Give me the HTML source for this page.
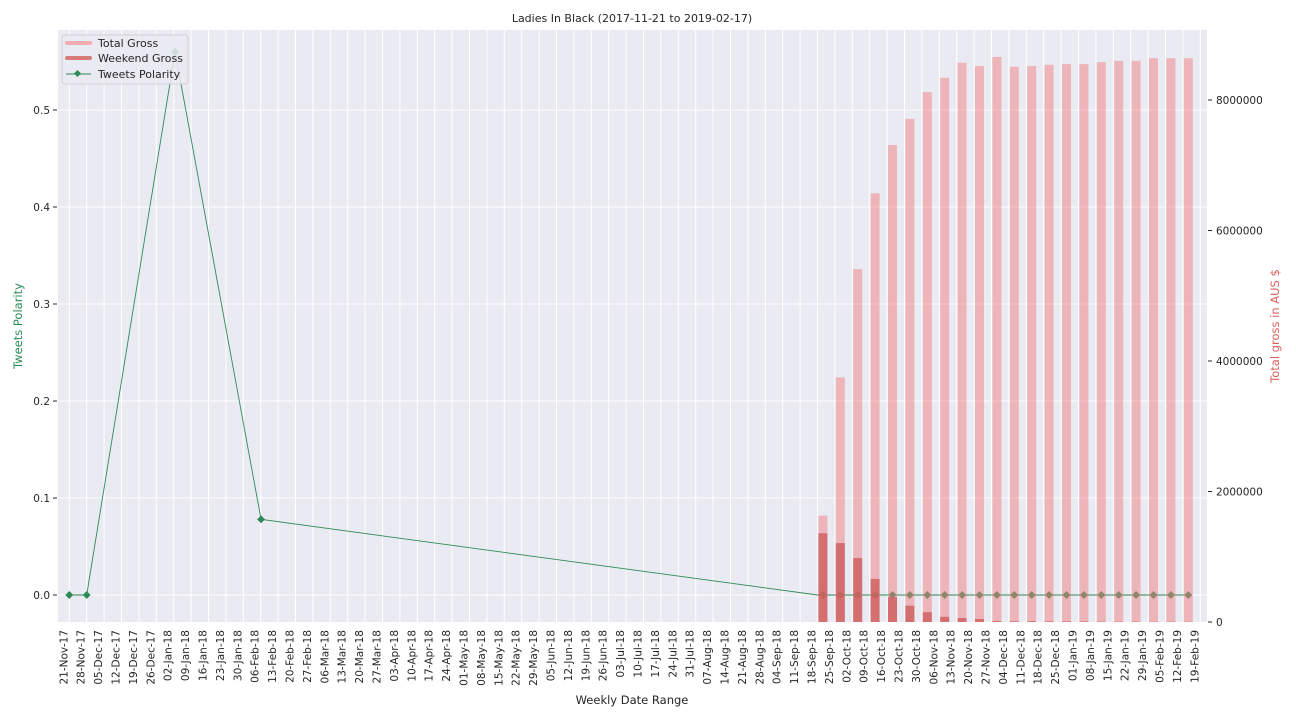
<!DOCTYPE html>
<html><head><meta charset="utf-8">
<style>
html,body{margin:0;padding:0;background:#fff;}
svg{display:block;font-family:"DejaVu Sans","Liberation Sans",sans-serif;}
</style></head>
<body>
<svg id="chart" width="1296" height="720" viewBox="0 0 1296 720" xmlns="http://www.w3.org/2000/svg">
<rect x="58" y="30" width="1149" height="592" fill="#eaeaf2"/>
<g id="grid"></g>
<g id="polarity"></g>
<g id="bars"></g>
<g id="axes"></g>
<text x="632" y="22" text-anchor="middle" font-size="11" fill="#262626">Ladies In Black (2017-11-21 to 2019-02-17)</text>
<text x="632" y="704" text-anchor="middle" font-size="11.5" fill="#262626">Weekly Date Range</text>
<text transform="translate(22,326) rotate(-90)" text-anchor="middle" font-size="11.5" fill="#2e8b57">Tweets Polarity</text>
<text transform="translate(1279,326) rotate(-90)" text-anchor="middle" font-size="11.5" fill="#d9605e">Total gross in AUS $</text>
<g>
<rect x="62" y="35" width="126" height="49" rx="3" fill="#eaeaf2" fill-opacity="0.85" stroke="#cccccc" stroke-width="0.8"/>
<line x1="67" y1="43" x2="90" y2="43" stroke="#f0aeb0" stroke-width="4" stroke-linecap="round"/>
<text x="98" y="47" font-size="11" fill="#262626">Total Gross</text>
<line x1="67" y1="58" x2="90" y2="58" stroke="#d77b7c" stroke-width="4" stroke-linecap="round"/>
<text x="98" y="62" font-size="11" fill="#262626">Weekend Gross</text>
<line x1="66" y1="74" x2="91" y2="74" stroke="#2e8b57" stroke-width="1"/>
<rect x="75" y="71" width="5" height="5" fill="#2e8b57" transform="rotate(45 77.5 73.5)"/>
<text x="98" y="78" font-size="11" fill="#262626">Tweets Polarity</text>
</g>
</svg>
<script>
const categories=["21-Nov-17","28-Nov-17","05-Dec-17","12-Dec-17","19-Dec-17","26-Dec-17","02-Jan-18","09-Jan-18","16-Jan-18","23-Jan-18","30-Jan-18","06-Feb-18","13-Feb-18","20-Feb-18","27-Feb-18","06-Mar-18","13-Mar-18","20-Mar-18","27-Mar-18","03-Apr-18","10-Apr-18","17-Apr-18","24-Apr-18","01-May-18","08-May-18","15-May-18","22-May-18","29-May-18","05-Jun-18","12-Jun-18","19-Jun-18","26-Jun-18","03-Jul-18","10-Jul-18","17-Jul-18","24-Jul-18","31-Jul-18","07-Aug-18","14-Aug-18","21-Aug-18","28-Aug-18","04-Sep-18","11-Sep-18","18-Sep-18","25-Sep-18","02-Oct-18","09-Oct-18","16-Oct-18","23-Oct-18","30-Oct-18","06-Nov-18","13-Nov-18","20-Nov-18","27-Nov-18","04-Dec-18","11-Dec-18","18-Dec-18","25-Dec-18","01-Jan-19","08-Jan-19","15-Jan-19","22-Jan-19","29-Jan-19","05-Feb-19","12-Feb-19","19-Feb-19"];
const barStart=44;
const totalGross=[1630000,3750000,5410000,6570000,7310000,7710000,8120000,8340000,8570000,8520000,8660000,8510000,8520000,8540000,8550000,8550000,8580000,8600000,8600000,8640000,8640000,8640000];
const weekendGross=[1360000,1210000,980000,660000,380000,250000,150000,80000,60000,45000,15000,12000,12000,10000,10000,8000,6000,5000,5000,4000,4000,3000];
const polarityIdx=[0,1,6.08,11.02,43,44,45,46,47,48,49,50,51,52,53,54,55,56,57,58,59,60,61,62,63,64,65];
const polarityVal=[0,0,0.56,0.078,0,0,0,0,0,0,0,0,0,0,0,0,0,0,0,0,0,0,0,0,0,0,0];
const polarityOnBars=[0,0,0,0,0,1,1,1,1,1,1,1,1,1,1,1,1,1,1,1,1,1,1,1,1,1,1];
const leftTicks=[0,0.1,0.2,0.3,0.4,0.5];
const rightTicks=[0,2000000,4000000,6000000,8000000];

const NS="http://www.w3.org/2000/svg";
const X0=58,X1=1207,Y0=30,Y1=622;
const xTick=i=>69.3+i*17.4;
const xBar=i=>xTick(i)-12;
const yL=v=>595-v*970;
const yR=v=>622-v*(522/8000000);
function mk(tag,attrs,parent){const e=document.createElementNS(NS,tag);for(const k in attrs)e.setAttribute(k,attrs[k]);parent.appendChild(e);return e;}
const grid=document.getElementById('grid'),axes=document.getElementById('axes'),bars=document.getElementById('bars'),pol=document.getElementById('polarity');

categories.forEach((c,i)=>{
  const x=xTick(i);
  const g=mk('line',{x1:x,x2:x,y1:Y0,y2:Y1,stroke:'#fff','stroke-width':1},grid);
  
  
  const t=mk('text',{transform:`translate(${x-6+4},630) rotate(-90)`,'text-anchor':'end','font-size':'10.5',fill:'#262626'},axes);
  
  
  t.textContent=c;
});
leftTicks.forEach(v=>{
  const y=yL(v);
  const g=mk('line',{x1:X0,x2:X1,y1:y,y2:y,stroke:'#fff','stroke-width':1},grid);
  
  
  mk('line',{x1:X0-5,x2:X0-1,y1:y,y2:y,stroke:'#262626','stroke-width':1},axes);
  const t=mk('text',{x:X0-8,y:y+4,'text-anchor':'end','font-size':'10.5',fill:'#262626'},axes);
  
  
  t.textContent=v.toFixed(1);
});
rightTicks.forEach(v=>{
  const y=yR(v);
  mk('line',{x1:X1+1,x2:X1+5,y1:y,y2:y,stroke:'#262626','stroke-width':1},axes);
  const t=mk('text',{x:X1+9,y:y+4,'font-size':'10.5',fill:'#262626'},axes);
  
  
  t.textContent=String(v);
});

const px=k=>polarityOnBars[k]?xBar(polarityIdx[k]):xTick(polarityIdx[k]);
const pts=polarityIdx.map((ix,k)=>px(k)+','+yL(polarityVal[k])).join(' ');
const pl=mk('polyline',{points:pts,fill:'none',stroke:'#2e8b57','stroke-width':0.9},pol);


polarityIdx.forEach((ix,k)=>{
  if(k===4)return;
  const x=px(k),y=yL(polarityVal[k]);
  const d=mk('rect',{x:x-2.8,y:y-2.8,width:5.6,height:5.6,fill:'#2e8b57',transform:`rotate(45 ${x} ${y})`},pol);
  
  
});

totalGross.forEach((v,k)=>{
  const x=xBar(barStart+k);
  const b=mk('rect',{x:x-4.5,y:yR(v),width:9,height:yR(0)-yR(v),fill:'#f08080','fill-opacity':0.5},bars);
  
  
});
weekendGross.forEach((v,k)=>{
  const x=xBar(barStart+k);
  const b=mk('rect',{x:x-4.5,y:yR(v),width:9,height:yR(0)-yR(v),fill:'#cd5c5c','fill-opacity':0.8},bars);
  
  
});
</script>
</body></html>
